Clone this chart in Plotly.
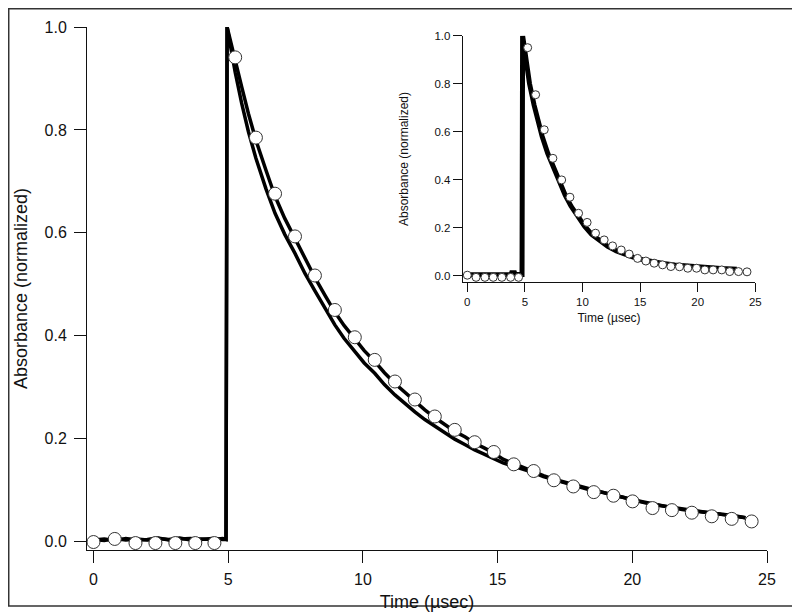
import plotly.graph_objects as go

# ---------------- main panel data ----------------
circle_time = [0.0, 0.79, 1.56, 2.30, 3.04, 3.78, 4.49, 5.26, 6.03, 6.74, 7.48, 8.22, 8.96, 9.70,
               10.44, 11.19, 11.93, 12.67, 13.41, 14.15, 14.86, 15.60, 16.34, 17.09, 17.81, 18.57,
               19.30, 20.01, 20.75, 21.47, 22.21, 22.95, 23.69, 24.43]
circle_abs = [-0.001, 0.005, -0.003, -0.003, -0.003, -0.003, -0.003, 0.941, 0.785, 0.676, 0.593,
              0.517, 0.450, 0.397, 0.353, 0.311, 0.276, 0.243, 0.217, 0.193, 0.174, 0.150, 0.137,
              0.119, 0.107, 0.096, 0.089, 0.078, 0.065, 0.061, 0.056, 0.049, 0.044, 0.039]

base_time = [0.0, 0.4, 0.8, 1.2, 1.6, 2.0, 2.4, 2.8, 3.2, 3.6, 4.0, 4.4, 4.8, 4.92]
upper_base = [0.003, 0.005, 0.002, 0.006, 0.003, 0.004, 0.007, 0.003, 0.005, 0.006, 0.004, 0.006, 0.004, 0.004]
lower_base = [0.004, 0.002, 0.006, 0.003, 0.005, 0.003, 0.006, 0.004, 0.007, 0.003, 0.005, 0.004, 0.006, 0.004]
peak_time = [4.96]
peak_abs = [1.0]
decay_time = [5.1, 5.26, 5.5, 5.75, 6.03, 6.4, 6.74, 7.1, 7.48, 7.85,
              8.22, 8.6, 8.96, 9.3, 9.70, 10.05, 10.44, 10.8, 11.19, 11.55,
              11.93, 12.3, 12.67, 13.05, 13.41, 13.8, 14.15, 14.5, 14.86, 15.2,
              15.60, 15.95, 16.34, 16.7, 17.09, 17.45, 17.81, 18.2, 18.57, 18.95,
              19.30, 19.65, 20.01, 20.4, 20.75, 21.1, 21.47, 21.85, 22.21, 22.6,
              22.95, 23.3, 23.69, 24.0, 24.2]
upper_decay = [0.968, 0.935, 0.884, 0.832, 0.780, 0.722, 0.671, 0.628, 0.589, 0.549,
               0.513, 0.478, 0.446, 0.420, 0.393, 0.371, 0.350, 0.328, 0.307, 0.290,
               0.272, 0.256, 0.241, 0.227, 0.214, 0.203, 0.191, 0.182, 0.172, 0.160,
               0.151, 0.144, 0.136, 0.128, 0.121, 0.116, 0.110, 0.104, 0.099, 0.095,
               0.090, 0.086, 0.082, 0.076, 0.072, 0.069, 0.066, 0.063, 0.061, 0.058,
               0.055, 0.053, 0.051, 0.048, 0.046]
lower_decay = [0.955, 0.912, 0.852, 0.797, 0.745, 0.686, 0.638, 0.597, 0.560, 0.521,
               0.487, 0.452, 0.421, 0.395, 0.369, 0.347, 0.327, 0.305, 0.285, 0.268,
               0.252, 0.237, 0.224, 0.211, 0.199, 0.188, 0.178, 0.170, 0.162, 0.153,
               0.146, 0.140, 0.134, 0.126, 0.120, 0.115, 0.109, 0.103, 0.098, 0.095,
               0.091, 0.086, 0.081, 0.077, 0.073, 0.069, 0.066, 0.062, 0.060, 0.058,
               0.056, 0.053, 0.050, 0.047, 0.046]

# ---------------- inset data ----------------
inset_circle_time = [0.0, 0.76, 1.53, 2.25, 3.0, 3.76, 4.45, 5.24, 5.93, 6.68, 7.43, 8.19, 8.91,
                     9.66, 10.4, 11.13, 11.88, 12.61, 13.36, 14.05, 14.78, 15.5, 16.22, 16.95,
                     17.67, 18.42, 19.14, 19.9, 20.62, 21.34, 22.09, 22.78, 23.54, 24.28]
inset_circle_abs = [0.002, -0.007, -0.007, -0.007, -0.007, -0.007, -0.007, 0.950, 0.754, 0.608,
                    0.489, 0.399, 0.327, 0.260, 0.222, 0.177, 0.149, 0.124, 0.107, 0.090, 0.072,
                    0.061, 0.052, 0.045, 0.038, 0.037, 0.031, 0.031, 0.024, 0.024, 0.024, 0.017,
                    0.017, 0.016]
inset_line_time = [0.25, 3.8, 3.85, 4.1, 4.15, 4.75, 4.8, 5.0, 5.4, 5.8, 6.12, 6.5, 6.98, 7.5,
                   8.0, 8.5, 9.0, 9.6, 10.2, 10.8, 11.5, 12.2, 12.95, 13.7, 14.4, 15.2, 16.0,
                   17.0, 18.0, 19.0, 20.1, 21.0, 22.0, 23.0, 23.4]
inset_line_abs = [0.004, 0.004, 0.012, 0.012, 0.005, 0.005, 1.0, 0.93, 0.80, 0.71, 0.65, 0.58,
                  0.51, 0.45, 0.385, 0.335, 0.29, 0.245, 0.205, 0.172, 0.145, 0.122, 0.103,
                  0.088, 0.077, 0.067, 0.059, 0.051, 0.045, 0.040, 0.036, 0.033, 0.030, 0.028,
                  0.027]

x_ticks = [0, 5, 10, 15, 20, 25]
y_ticks = [0.0, 0.2, 0.4, 0.6, 0.8, 1.0]

FONT = "Liberation Sans, Arial, sans-serif"
INK = "#111111"

upper_time = base_time + peak_time + decay_time
upper_abs = upper_base + peak_abs + upper_decay
lower_time = base_time + peak_time + decay_time
lower_abs = lower_base + peak_abs + lower_decay

fig = go.Figure()
fig.add_trace(go.Scatter(x=lower_time, y=lower_abs, mode="lines",
                         line=dict(color="black", width=3.5), showlegend=False))
fig.add_trace(go.Scatter(x=upper_time, y=upper_abs, mode="lines",
                         line=dict(color="black", width=3.5), showlegend=False))
fig.add_trace(go.Scatter(x=circle_time, y=circle_abs, mode="markers", cliponaxis=False,
                         marker=dict(symbol="circle", size=13, color="white",
                                     line=dict(color="#333333", width=1)),
                         showlegend=False))

fig.add_trace(go.Scatter(x=inset_line_time, y=inset_line_abs, mode="lines",
                         xaxis="x2", yaxis="y2",
                         line=dict(color="black", width=5), showlegend=False))
fig.add_trace(go.Scatter(x=inset_circle_time, y=inset_circle_abs, mode="markers",
                         xaxis="x2", yaxis="y2", cliponaxis=False,
                         marker=dict(symbol="circle", size=8, color="white",
                                     line=dict(color="#333333", width=1)),
                         showlegend=False))

axis_common = dict(showline=True, linecolor=INK, linewidth=1, ticks="outside",
                   tickcolor=INK, tickwidth=1, showgrid=False, zeroline=False,
                   mirror=False, automargin=False)

# page body adds an 8px offset, so the figure is 792x607 and shifted coordinates are used
fig.update_layout(
    width=792, height=607,
    margin=dict(l=79, r=33, t=19, b=65, autoexpand=False),
    paper_bgcolor="white", plot_bgcolor="rgba(0,0,0,0)",
    font=dict(family=FONT, color=INK),
    xaxis=dict(range=[-0.24, 25.0], tickvals=x_ticks, ticklen=12,
               tickfont=dict(size=16), ticklabelstandoff=3,
               title=dict(text="Time (µsec)", font=dict(size=18), standoff=8),
               **axis_common),
    yaxis=dict(range=[-0.0165, 1.0], tickvals=y_ticks, tickformat=".1f", ticklen=12,
               tickfont=dict(size=16), ticklabelstandoff=4,
               title=dict(text="Absorbance (normalized)", font=dict(size=18), standoff=12),
               **axis_common),
    xaxis2=dict(domain=[0.5525, 0.9828], anchor="y2", range=[-0.4, 25.0],
                tickvals=x_ticks, ticklen=9, tickfont=dict(size=11.5),
                title=dict(text="Time (µsec)", font=dict(size=12), standoff=6),
                **axis_common),
    yaxis2=dict(domain=[0.5119, 0.9834], anchor="x2", range=[-0.0275, 1.0],
                tickvals=y_ticks, tickformat=".1f", ticklen=9, tickfont=dict(size=11.5),
                title=dict(text="Absorbance (normalized)", font=dict(size=12), standoff=23),
                **axis_common),
    shapes=[dict(type="rect", xref="paper", yref="paper",
                 x0=-0.1151, x1=1.0382, y0=-0.1071, y1=1.0349,
                 line=dict(color="#333333", width=1.5), fillcolor="rgba(0,0,0,0)")],
)

fig.write_html("out.html")
